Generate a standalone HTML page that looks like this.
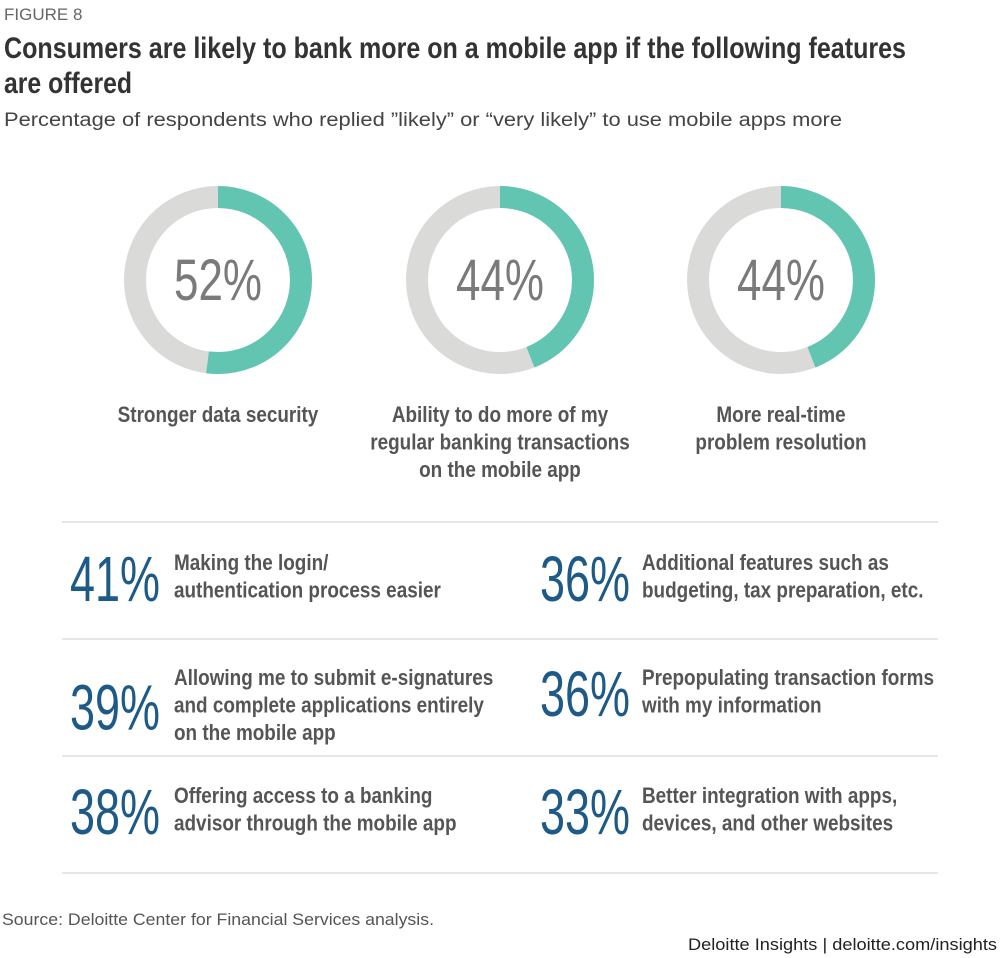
<!DOCTYPE html>
<html><head><meta charset="utf-8"><style>
body{margin:0;background:#fff;}
svg{display:block;font-family:"Liberation Sans Narrow","Liberation Sans",sans-serif;}
</style></head><body>
<svg id="chart" width="1000" height="958" viewBox="0 0 1000 958" xmlns="http://www.w3.org/2000/svg">
<text x="4" y="20" font-family="Liberation Sans,sans-serif" font-size="17" fill="#666">FIGURE 8</text>
<text x="4" y="58" font-size="30" font-weight="bold" fill="#333" textLength="902" lengthAdjust="spacingAndGlyphs">Consumers are likely to bank more on a mobile app if the following features</text>
<text x="4" y="93" font-size="30" font-weight="bold" fill="#333" textLength="128" lengthAdjust="spacingAndGlyphs">are offered</text>
<text x="4" y="126" font-family="Liberation Sans,sans-serif" font-size="19" fill="#444" textLength="838" lengthAdjust="spacingAndGlyphs">Percentage of respondents who replied ”likely” or “very likely” to use mobile apps more</text>
<g id="donuts"></g>
<g id="items"></g>
<text x="2" y="925" font-family="Liberation Sans,sans-serif" font-size="17" fill="#555" textLength="432" lengthAdjust="spacingAndGlyphs">Source: Deloitte Center for Financial Services analysis.</text>
<text x="997" y="950" text-anchor="end" font-family="Liberation Sans,sans-serif" font-size="17" fill="#222" textLength="309" lengthAdjust="spacingAndGlyphs">Deloitte Insights | deloitte.com/insights</text>
</svg>
<script>
const donutValues=[52,44,44];
const donutLabels=[["Stronger data security"],["Ability to do more of my","regular banking transactions","on the mobile app"],["More real-time","problem resolution"]];
const itemValues=[41,39,38,36,36,33];
const itemLabels=[["Making the login/","authentication process easier"],["Allowing me to submit e-signatures","and complete applications entirely","on the mobile app"],["Offering access to a banking","advisor through the mobile app"],["Additional features such as","budgeting, tax preparation, etc."],["Prepopulating transaction forms","with my information"],["Better integration with apps,","devices, and other websites"]];
const NS="http://www.w3.org/2000/svg";
const SX=0.86;
function mk(tag,attrs,parent){const e=document.createElementNS(NS,tag);for(const k in attrs)e.setAttribute(k,attrs[k]);parent.appendChild(e);return e;}
const dg=document.getElementById('donuts');
const cxs=[218,500,781],cy=280,r=83,C=2*Math.PI*r;
donutValues.forEach((v,i)=>{
  const bg=mk('circle',{cx:cxs[i],cy:cy,r:r,fill:'none',stroke:'#dadbd9','stroke-width':22},dg);
  
  
  const arc=mk('circle',{cx:cxs[i],cy:cy,r:r,fill:'none',stroke:'#62c5b1','stroke-width':22,'stroke-dasharray':(C*v/100)+' '+C,transform:`rotate(-90 ${cxs[i]} ${cy})`},dg);
  
  
  const t=mk('text',{x:cxs[i]-44,y:cy+20,'font-size':58,fill:'#7a7a7a',textLength:88,lengthAdjust:'spacingAndGlyphs'},dg);
  t.textContent=v+'%';
  
  
  donutLabels[i].forEach((ln,j)=>{
    const l=mk('text',{x:0,y:0,'text-anchor':'middle','font-size':22,'font-weight':'bold',fill:'#555',transform:`translate(${cxs[i]},${422+j*27.5}) scale(${SX},1)`},dg);
    l.textContent=ln;
    
    
  });
});
const ig=document.getElementById('items');
[522,639,756,873].forEach(y=>{
  const ln=mk('line',{x1:62,x2:938,y1:y,y2:y,stroke:'#ddd','stroke-width':1.5},ig);
  
  
});
const rowTop=[562,677,795];
itemValues.forEach((v,i)=>{
  const col=Math.floor(i/3),row=i%3;
  const nx=col?540:70, tx=col?642:174;
  const nlines=itemLabels[i].length;
  const ncy=rowTop[row]+(nlines-1)*27.5/2;
  const n=mk('text',{x:nx,y:ncy+25,'font-size':64,fill:'#1d5a87',textLength:90,lengthAdjust:'spacingAndGlyphs'},ig);
  n.textContent=v+'%';
  
  
  itemLabels[i].forEach((ln,j)=>{
    const l=mk('text',{x:0,y:0,'font-size':22,'font-weight':'bold',fill:'#555',transform:`translate(${tx},${rowTop[row]+8+j*27.5}) scale(${SX},1)`},ig);
    l.textContent=ln;
    
    
  });
});
</script>
</body></html>
